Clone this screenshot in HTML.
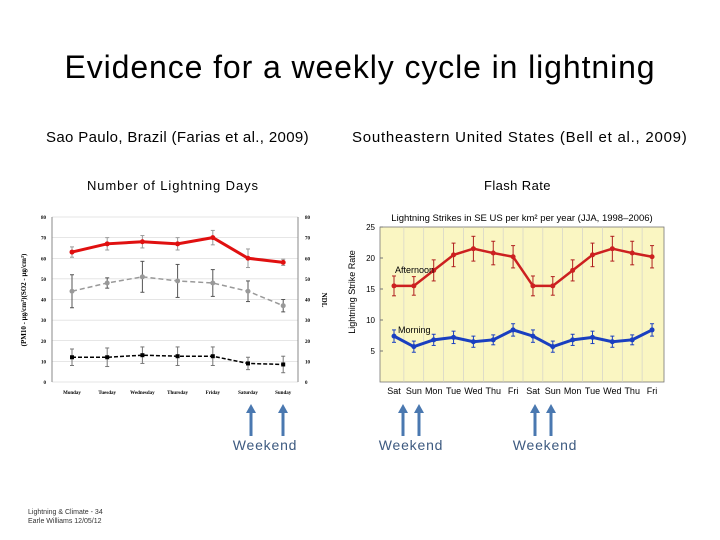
<!DOCTYPE html>
<html><head><meta charset="utf-8"><style>
body{margin:0;background:#fff;}
#page{position:relative;width:720px;height:540px;overflow:hidden;font-family:"Liberation Sans",sans-serif;}
.t{position:absolute;white-space:nowrap;}
</style></head><body>
<div id="page">
<div class="t" style="left:0;width:720px;text-align:center;top:49px;font-size:32px;letter-spacing:0.9px;color:#000;">Evidence for a weekly cycle in lightning</div>
<div class="t" style="left:46px;top:129px;font-size:15px;letter-spacing:0.35px;">Sao Paulo, Brazil (Farias et al., 2009)</div>
<div class="t" style="left:352px;top:129px;font-size:15px;letter-spacing:0.75px;">Southeastern United States (Bell et al., 2009)</div>
<div class="t" style="left:87px;top:178px;font-size:13px;letter-spacing:0.9px;">Number of Lightning Days</div>
<div class="t" style="left:484px;top:178px;font-size:13px;letter-spacing:0.4px;">Flash Rate</div>
<div class="t" style="left:28px;top:508px;font-size:7px;line-height:9px;color:#333;">Lightning &amp; Climate - 34<br>Earle Williams 12/05/12</div>
<svg id="chart" width="720" height="540" style="position:absolute;left:0;top:0"></svg>
</div>
<script>
const daysL=["Monday","Tuesday","Wednesday","Thursday","Friday","Saturday","Sunday"];
const ticksL=[0,10,20,30,40,50,60,70,80];
const redL=[63,67,68,67,70,60,58];
const redErr=[2.5,3,3,3,3.5,4.5,1.5];
const grayL=[44,48,51,49,48,44,37];
const grayErr=[8,2.5,7.5,8,6.5,5,3];
const blackL=[12,12,13,12.5,12.5,9,8.5];
const blackErr=[4,4.5,4,4.5,4.5,3,4];
const daysR=["Sat","Sun","Mon","Tue","Wed","Thu","Fri","Sat","Sun","Mon","Tue","Wed","Thu","Fri"];
const ticksR=[5,10,15,20,25];
const aftR=[15.5,15.5,18,20.5,21.5,20.8,20.2,15.5,15.5,18,20.5,21.5,20.8,20.2];
const aftErr=[1.6,1.5,1.7,1.9,2,1.9,1.8,1.6,1.5,1.7,1.9,2,1.9,1.8];
const mornR=[7.4,5.7,6.8,7.2,6.5,6.8,8.4,7.4,5.7,6.8,7.2,6.5,6.8,8.4];
const mornErr=[1,0.9,0.9,1,0.9,0.8,1,1,0.9,0.9,1,0.9,0.8,1];
const weekendX=[251,283,403,419,535,551];
const svg=document.getElementById('chart');const NS='http://www.w3.org/2000/svg';
function mk(tag,a,p){const e=document.createElementNS(NS,tag);for(const k in a)e.setAttribute(k,a[k]);(p||svg).appendChild(e);return e;}
const lx=i=>72+i*35.2, ly=v=>382-v*165/80;
const gL=mk('g',{});
mk('rect',{x:52,y:217,width:246,height:165,fill:'#fff'},gL);
ticksL.forEach(t=>{mk('line',{x1:52,x2:298,y1:ly(t),y2:ly(t),stroke:'#ccc','stroke-width':0.6},gL);
 const a=mk('text',{x:46,y:ly(t)+2,'font-size':5,'text-anchor':'end','font-family':'Liberation Serif','font-weight':'bold'},gL);a.textContent=t;
 const b=mk('text',{x:305,y:ly(t)+2,'font-size':5,'font-family':'Liberation Serif','font-weight':'bold'},gL);b.textContent=t;});
mk('line',{x1:52,x2:52,y1:217,y2:382,stroke:'#888'},gL);mk('line',{x1:298,x2:298,y1:217,y2:382,stroke:'#888'},gL);
daysL.forEach((d,i)=>{const t=mk('text',{x:lx(i),y:394,'font-size':5,'text-anchor':'middle','font-family':'Liberation Serif','font-weight':'bold'},gL);t.textContent=d;});
let yl=mk('text',{x:26,y:300,'font-size':7,'text-anchor':'middle','font-family':'Liberation Serif','font-weight':'bold',transform:'rotate(-90 26 300)'},gL);yl.textContent='(PM10 - µg/cm³)(SO2 - µg/cm³)';
let yr=mk('text',{x:322,y:300,'font-size':7,'text-anchor':'middle','font-family':'Liberation Serif','font-weight':'bold',transform:'rotate(90 322 300)'},gL);yr.textContent='NDL';
function series(g,vals,errs,X,Y,col,w,dash,ecol,name,mark){
 vals.forEach((v,i)=>{const e=mk('line',{x1:X(i),x2:X(i),y1:Y(v-errs[i]),y2:Y(v+errs[i]),stroke:ecol,'stroke-width':1},g);
  mk('line',{x1:X(i)-2,x2:X(i)+2,y1:Y(v-errs[i]),y2:Y(v-errs[i]),stroke:ecol},g);mk('line',{x1:X(i)-2,x2:X(i)+2,y1:Y(v+errs[i]),y2:Y(v+errs[i]),stroke:ecol},g);});
 const p=mk('polyline',{points:vals.map((v,i)=>X(i)+','+Y(v)).join(' '),fill:'none',stroke:col,'stroke-width':w,'stroke-dasharray':dash},g);
 vals.forEach((v,i)=>{const m=mark==='sq'?mk('rect',{x:X(i)-2,y:Y(v)-2,width:4,height:4,fill:col},g):mk('circle',{cx:X(i),cy:Y(v),r:2.5,fill:col},g);});
}
series(gL,grayL,grayErr,lx,ly,'#999',1.5,'5 3','#555','gray-series','none');
series(gL,blackL,blackErr,lx,ly,'#000',1.5,'4 2','#777','black-series','sq');
series(gL,redL,redErr,lx,ly,'#e01010',3,'','#999','red-series','c');
const rx=i=>394+i*19.85, ry=v=>382-v*6.2;
const gR=mk('g',{});
mk('rect',{x:380,y:227,width:284,height:155,fill:'#faf6c2',stroke:'#777','stroke-width':0.8},gR);
daysR.forEach((d,i)=>{if(i<13)mk('line',{x1:rx(i)+9.9,x2:rx(i)+9.9,y1:227,y2:382,stroke:'#ccc','stroke-width':0.6},gR);
 const t=mk('text',{x:rx(i),y:394,'font-size':9,'text-anchor':'middle'},gR);t.textContent=d;});
ticksR.forEach(t=>{mk('line',{x1:380,x2:383,y1:ry(t),y2:ry(t),stroke:'#777'},gR);const a=mk('text',{x:375,y:ry(t)+3,'font-size':8,'text-anchor':'end'},gR);a.textContent=t;});
let tt=mk('text',{x:522,y:221,'font-size':9.5,'text-anchor':'middle'},gR);tt.textContent='Lightning Strikes in SE US per km² per year (JJA, 1998–2006)';
let ya=mk('text',{x:355,y:292,'font-size':9,'text-anchor':'middle',transform:'rotate(-90 355 292)'},gR);ya.textContent='Lightning Strike Rate';
series(gR,aftR,aftErr,rx,ry,'#cc2020',2.5,'','#b02020','afternoon','c');
series(gR,mornR,mornErr,rx,ry,'#1a3fc0',3,'','#1a3fc0','morning','c');
let la=mk('text',{x:395,y:273,'font-size':9},gR);la.textContent='Afternoon';
let lm=mk('text',{x:398,y:333,'font-size':9},gR);lm.textContent='Morning';
weekendX.forEach(x=>{const g=mk('g',{});
 mk('line',{x1:x,x2:x,y1:412,y2:436,stroke:'#4a78b0','stroke-width':3},g);mk('polygon',{points:`${x-5},413 ${x+5},413 ${x},404`,fill:'#4a78b0'},g);});
[[265,'weekend-label-1'],[411,'weekend-label-2'],[545,'weekend-label-3']].forEach(([x,n])=>{const t=mk('text',{x:x,y:450,'font-size':14,'letter-spacing':0.8,'text-anchor':'middle',fill:'#3d5a80'});t.textContent='Weekend';});
</script>
</body></html>
